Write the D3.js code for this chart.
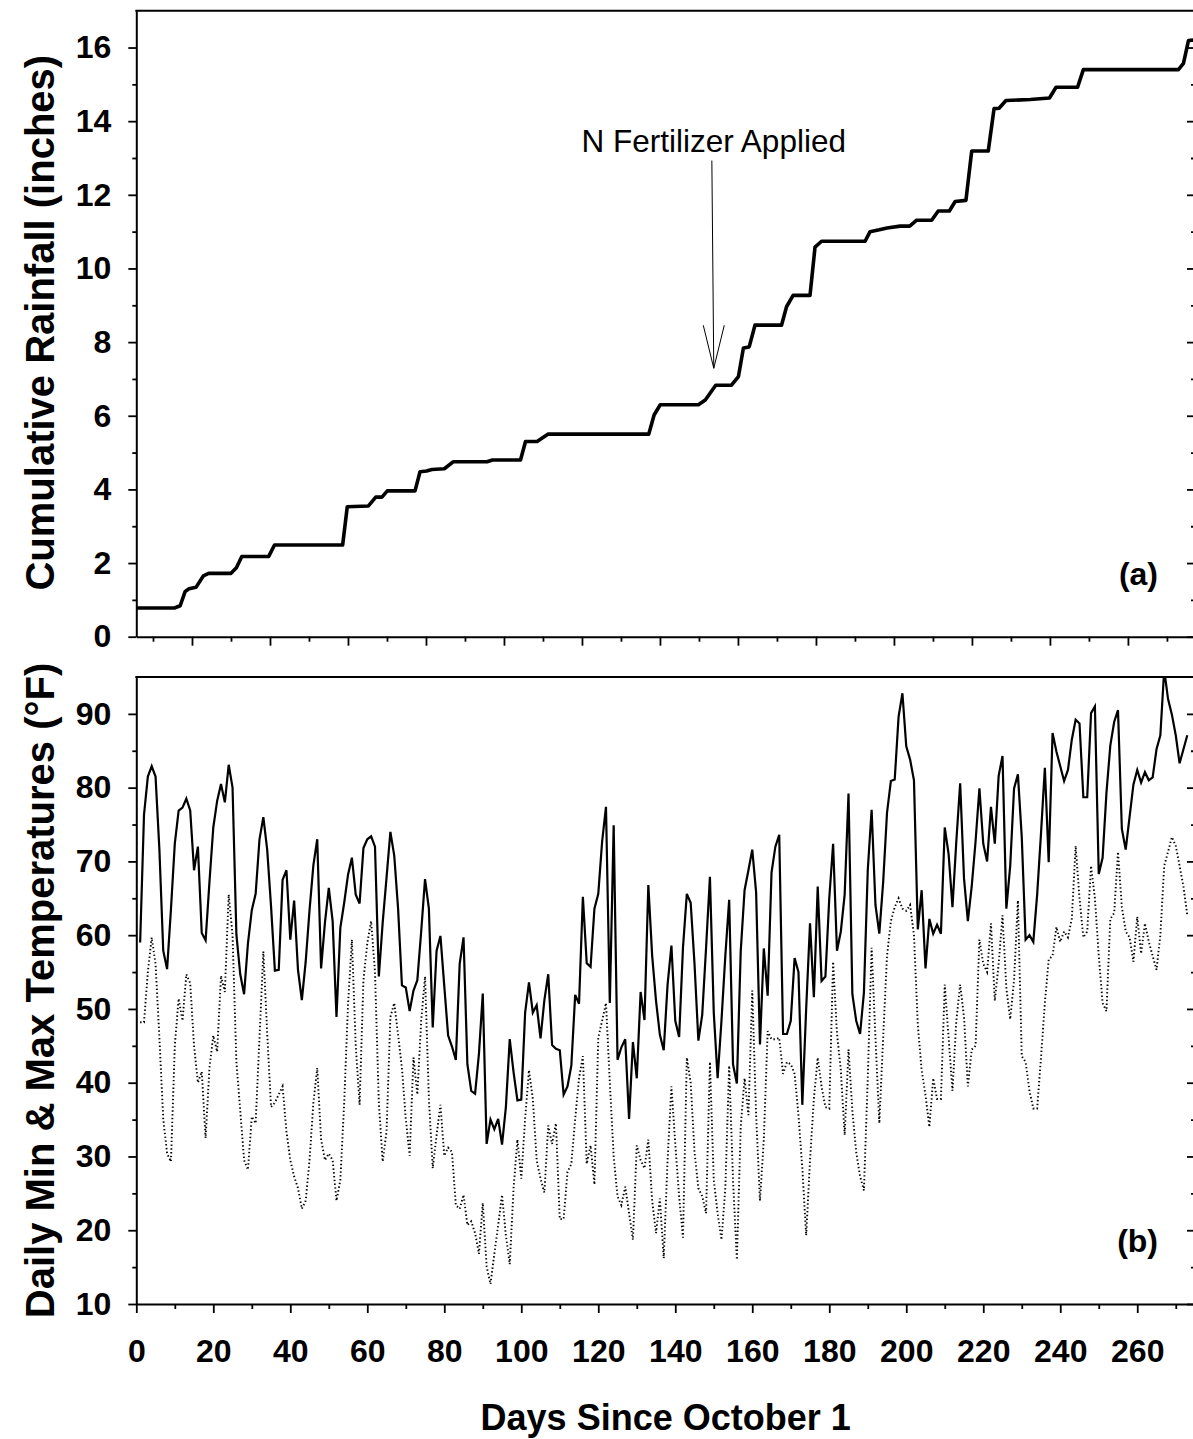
<!DOCTYPE html>
<html><head><meta charset="utf-8">
<script src="https://cdn.jsdelivr.net/npm/d3@7"></script>
<style>
body{margin:0;background:#fff}
svg{display:block}
text{font-family:"Liberation Sans",Arial,Helvetica,sans-serif;fill:#000}
</style>
</head><body>
<svg id="chart" width="1193" height="1439"></svg>
<script>
// ---------- DATA ----------
// (a) cumulative rainfall: breakpoints (day since Oct 1, inches)
const rainDays = [0,9.9,11.4,12.7,13.7,15.5,17.4,18.8,24.6,26.0,27.4,34.4,35.9,53.6,54.8,60.3,62.2,63.8,65.2,72.4,73.7,75.4,76.8,80.0,82.3,91.1,92.5,99.8,101.1,104.1,106.9,133.1,134.5,136.1,146.0,147.8,150.5,154.6,156.4,157.7,159.2,160.7,167.6,168.9,170.6,175.0,176.3,178.0,189.3,190.6,193,195,198.4,200.9,202.7,206.6,208.3,211.2,212.7,215.5,217.0,221.3,222.8,224.1,225.9,232.2,237.2,238.9,244.5,246.0,270.7,272.0,273.3,274.5];
const rainInches = [0.78,0.78,0.84,1.23,1.30,1.34,1.65,1.72,1.72,1.87,2.18,2.18,2.49,2.49,3.53,3.55,3.79,3.79,3.96,3.96,4.48,4.50,4.54,4.56,4.75,4.75,4.80,4.80,5.30,5.30,5.50,5.50,6.02,6.30,6.30,6.43,6.83,6.83,7.06,7.84,7.87,8.46,8.46,8.96,9.27,9.27,10.58,10.74,10.74,11.00,11.05,11.10,11.15,11.15,11.31,11.31,11.56,11.56,11.82,11.85,13.19,13.19,14.34,14.35,14.56,14.59,14.63,14.92,14.92,15.40,15.40,15.57,16.19,16.20];

// (b) daily temperatures, days 1..273
const firstTempDay = 1;
const maxTempF = [59.0,76.3,81.5,82.9,81.5,71.6,57.9,55.4,63.5,72.4,76.9,77.3,78.5,76.9,68.8,72.0,60.3,59.3,67.2,74.6,
78.2,80.5,78.0,83.1,80.0,60.1,54.7,52.0,58.9,63.4,65.6,73.0,76.0,71.6,63.9,55.2,55.3,67.5,68.8,59.4,
64.7,55.3,51.2,56.4,63.4,69.5,73.0,55.5,61.7,66.4,61.9,48.9,61.0,64.4,68.2,70.5,65.5,64.3,71.8,73.0,
73.4,72.0,54.4,61.7,67.8,74.0,70.8,63.6,53.2,52.9,49.7,52.5,53.9,60.5,67.6,63.6,47.5,57.9,59.9,53.1,
46.4,44.9,43.1,56.1,59.7,42.5,38.9,38.5,43.9,52.1,31.7,35.0,33.7,35.1,31.6,36.7,45.9,41.4,37.6,37.7,
49.5,53.6,49.5,50.5,46.0,51.2,54.7,45.1,44.6,44.4,38.4,39.5,42.3,51.9,50.7,65.2,56.2,55.7,63.6,65.6,
72.7,77.4,50.8,74.9,43.1,44.8,45.9,35.1,45.5,40.6,52.3,48.5,66.8,57.2,51.1,46.5,44.4,53.3,58.6,48.4,
46.2,58.3,65.6,64.4,56.1,45.7,49.2,58.3,67.9,49.5,40.6,48.4,57.2,64.8,42.5,39.9,57.8,66.1,68.8,71.6,
65.8,45.2,58.2,51.8,68.5,72.0,73.6,46.6,46.6,48.4,56.9,55.0,37.0,50.0,61.6,51.6,66.6,53.8,54.4,65.0,
72.4,57.9,60.5,65.5,79.2,52.0,48.4,46.6,52.2,68.8,77.0,64.1,60.2,67.2,76.6,80.9,81.1,89.6,92.8,85.6,
83.8,81.0,60.8,66.1,55.5,62.2,60.2,61.4,60.2,74.6,71.0,63.8,72.7,80.6,67.7,61.9,66.6,72.7,79.9,72.4,
70.0,77.4,72.4,81.6,84.3,63.6,69.4,79.9,81.8,73.3,59.4,60.0,59.1,65.5,73.8,82.7,69.9,87.4,84.9,82.9,
80.9,82.4,86.5,89.2,88.7,78.7,78.7,90.1,91.0,68.3,70.5,79.3,85.7,88.9,90.5,74.4,71.6,76.0,80.4,82.4,
80.7,82.1,81.0,81.4,85.2,87.1,96.0,92.0,89.9,87.1,83.3,85.2,87.1];
const minTempF = [48.2,48.2,55.0,59.7,56.1,46.1,35.1,30.4,29.3,45.0,51.4,48.4,54.7,53.5,45.0,40.0,41.5,32.5,42.0,46.4,
44.2,54.5,52.3,65.5,60.0,42.8,36.2,29.5,28.2,35.4,34.5,46.1,57.8,46.7,36.7,37.3,38.4,39.5,33.4,29.5,
27.3,25.7,22.9,24.0,29.5,37.3,42.0,32.3,29.5,30.4,29.5,24.0,26.8,37.3,50.6,59.4,45.0,37.0,53.9,58.9,
61.9,55.0,37.3,29.3,33.4,48.9,50.8,46.5,42.0,35.1,30.1,43.4,38.4,48.4,54.4,37.8,28.4,32.9,37.0,30.1,
31.2,30.6,23.4,22.9,24.8,20.7,21.2,19.6,16.8,23.7,15.1,12.7,16.8,20.7,24.8,19.3,15.4,25.7,32.3,27.0,
35.1,41.7,37.8,29.5,27.0,25.1,34.2,31.7,34.5,21.5,21.5,27.9,29.0,35.1,40.6,43.6,29.0,31.5,26.2,46.1,
48.4,50.8,40.0,30.0,24.6,23.4,25.9,22.3,18.7,31.5,29.5,28.4,32.3,24.0,19.6,24.3,16.2,29.5,39.5,31.7,
24.6,19.0,43.4,40.0,30.6,25.7,24.6,22.3,42.8,26.8,22.3,18.7,25.7,42.3,26.8,16.0,34.0,40.6,35.6,52.5,
35.6,24.0,32.3,47.0,45.9,45.9,46.1,41.2,42.8,42.5,41.2,35.6,28.4,19.3,29.5,37.8,43.4,39.5,36.7,36.5,
56.4,46.7,41.7,32.9,44.5,36.2,30.6,27.3,25.4,40.6,58.3,46.1,34.5,46.1,57.2,61.9,63.8,65.0,63.6,63.3,
64.1,60.0,47.8,41.7,38.3,34.0,40.6,37.8,37.8,53.3,46.1,38.9,48.4,53.3,48.9,39.5,44.5,45.0,59.4,56.1,
55.0,61.6,51.1,56.1,62.7,52.8,48.6,53.9,64.7,43.6,42.8,38.9,36.5,36.5,43.4,50.8,56.7,57.2,61.1,59.1,
60.5,59.7,62.2,72.1,65.0,59.7,60.5,69.4,65.0,57.2,50.8,49.7,62.2,63.0,71.3,63.8,60.5,59.7,56.4,62.5,
57.5,61.6,59.1,57.2,55.3,60.0,69.4,71.3,73.3,72.1,69.4,66.6,62.7];

// tick values
const dayLabelTicks = [0,20,40,60,80,100,120,140,160,180,200,220,240,260];
const dayMinorTicks = [10,30,50,70,90,110,130,150,170,190,210,230,250,270];
const topAxisMajor = [10,30,50,70,90,110,130,150,170,190,210,230,250];
const topAxisMinor = [0,20,40,60,80,100,120,140,160,180,200,220,240,260];
const rainMajorTicks = [0,2,4,6,8,10,12,14,16];
const rainMinorTicks = [1,3,5,7,9,11,13,15];
const tempMajorTicks = [10,20,30,40,50,60,70,80,90];
const tempMinorTicks = [15,25,35,45,55,65,75,85];

// ---------- LAYOUT ----------
const L = 136.3, R = 1195;
const topA = 10.7, botA = 636.7, topB = 677, botB = 1304;

const svg = d3.select("#chart");
const x = d3.scaleLinear().domain([0,275]).range([L,R]);
const xTop = d3.scaleLinear().domain([-4.28,267.2]).range([L,R]);
const yR = d3.scaleLinear().domain([0,17]).range([botA,topA]);
const yT = d3.scaleLinear().domain([10,95]).range([botB,topB]);

const tickFont = 'bold 32px "Liberation Sans",Arial,sans-serif';

function styleAxis(g, sw){
  g.selectAll("path.domain").attr("stroke","#000").attr("stroke-width",sw);
  g.selectAll(".tick line").attr("stroke","#000").attr("stroke-width",1.8);
  g.selectAll(".tick text").style("font",tickFont).attr("fill","#000");
}

// ===== Panel (a) =====
svg.append("g").attr("transform",`translate(${L},0)`)
  .call(d3.axisLeft(yR).tickValues(rainMajorTicks).tickSize(8).tickSizeOuter(0).tickPadding(17).tickFormat(d3.format("d")))
  .call(g=>styleAxis(g,2));
svg.append("g").attr("transform",`translate(${L},0)`)
  .call(d3.axisLeft(yR).tickValues(rainMinorTicks).tickSize(4).tickSizeOuter(0).tickFormat(""))
  .call(g=>{styleAxis(g,2); g.select("path.domain").remove();});
svg.append("g").attr("transform",`translate(${R},0)`)
  .call(d3.axisRight(yR).tickValues(rainMajorTicks).tickSize(-8).tickSizeOuter(0).tickFormat(""))
  .call(g=>styleAxis(g,2));
svg.append("g").attr("transform",`translate(${R},0)`)
  .call(d3.axisRight(yR).tickValues(rainMinorTicks).tickSize(-4).tickSizeOuter(0).tickFormat(""))
  .call(g=>{styleAxis(g,2); g.select("path.domain").remove();});
svg.append("g").attr("transform",`translate(0,${botA})`)
  .call(d3.axisBottom(xTop).tickValues(topAxisMajor).tickSize(9).tickSizeOuter(0).tickFormat(""))
  .call(g=>styleAxis(g,2));
svg.append("g").attr("transform",`translate(0,${botA})`)
  .call(d3.axisBottom(xTop).tickValues(topAxisMinor).tickSize(5).tickSizeOuter(0).tickFormat(""))
  .call(g=>{styleAxis(g,2); g.select("path.domain").remove();});
svg.append("line").attr("x1",L-1).attr("x2",R).attr("y1",topA).attr("y2",topA)
  .attr("stroke","#000").attr("stroke-width",2);

const rainPts = rainDays.map((d,i)=>[d, rainInches[i]]);
svg.append("path").datum(rainPts)
  .attr("fill","none").attr("stroke","#000").attr("stroke-width",3.6)
  .attr("stroke-linejoin","round").attr("stroke-linecap","butt")
  .attr("d", d3.line().x(d=>x(d[0])).y(d=>yR(d[1])));

const annDay = 150;
svg.append("text").attr("x",x(annDay)).attr("y",yR(13.15))
  .attr("text-anchor","middle").style("font",'31.5px "Liberation Sans",Arial,sans-serif')
  .text("N Fertilizer Applied");
const tipX = x(annDay), tipY = yR(7.29);
svg.append("line").attr("x1",x(annDay-0.5)).attr("y1",yR(12.93)).attr("x2",tipX).attr("y2",tipY)
  .attr("stroke","#000").attr("stroke-width",1);
svg.append("path").attr("d",`M${tipX-10.5},${tipY-43}L${tipX},${tipY}L${tipX+10.5},${tipY-43}`)
  .attr("fill","none").attr("stroke","#000").attr("stroke-width",1);

svg.append("text").attr("x",1158).attr("y",585).attr("text-anchor","end")
  .style("font",tickFont).text("(a)");

svg.append("text").attr("transform",`translate(54,${(topA+botA)/2 - 1}) rotate(-90)`)
  .attr("text-anchor","middle").style("font",'bold 40px "Liberation Sans",Arial,sans-serif')
  .text("Cumulative Rainfall (inches)");

// ===== Panel (b) =====
svg.append("g").attr("transform",`translate(${L},0)`)
  .call(d3.axisLeft(yT).tickValues(tempMajorTicks).tickSize(8).tickSizeOuter(0).tickPadding(17).tickFormat(d3.format("d")))
  .call(g=>styleAxis(g,2));
svg.append("g").attr("transform",`translate(${L},0)`)
  .call(d3.axisLeft(yT).tickValues(tempMinorTicks).tickSize(4).tickSizeOuter(0).tickFormat(""))
  .call(g=>{styleAxis(g,2); g.select("path.domain").remove();});
svg.append("g").attr("transform",`translate(${R},0)`)
  .call(d3.axisRight(yT).tickValues(tempMajorTicks).tickSize(-8).tickSizeOuter(0).tickFormat(""))
  .call(g=>styleAxis(g,2));
svg.append("g").attr("transform",`translate(${R},0)`)
  .call(d3.axisRight(yT).tickValues(tempMinorTicks).tickSize(-4).tickSizeOuter(0).tickFormat(""))
  .call(g=>{styleAxis(g,2); g.select("path.domain").remove();});
svg.append("g").attr("transform",`translate(0,${botB})`)
  .call(d3.axisBottom(x).tickValues(dayLabelTicks).tickSize(9).tickSizeOuter(0).tickPadding(26).tickFormat(d3.format("d")))
  .call(g=>styleAxis(g,2));
svg.append("g").attr("transform",`translate(0,${botB})`)
  .call(d3.axisBottom(x).tickValues(dayMinorTicks).tickSize(5).tickSizeOuter(0).tickFormat(""))
  .call(g=>{styleAxis(g,2); g.select("path.domain").remove();});
svg.append("line").attr("x1",L-1).attr("x2",R).attr("y1",topB).attr("y2",topB)
  .attr("stroke","#000").attr("stroke-width",2);

svg.append("clipPath").attr("id","clipB").append("rect")
  .attr("x",L).attr("y",topB).attr("width",R-L).attr("height",botB-topB);
const gB = svg.append("g").attr("clip-path","url(#clipB)");
const tLine = d3.line().x((d,i)=>x(firstTempDay+i)).y(d=>yT(d));
gB.append("path").datum(minTempF).attr("fill","none").attr("stroke","#000")
  .attr("stroke-width",1.9).attr("stroke-dasharray","1.4,2.4").attr("d",tLine);
gB.append("path").datum(maxTempF).attr("fill","none").attr("stroke","#000")
  .attr("stroke-width",2.2).attr("stroke-linejoin","miter").attr("d",tLine);

svg.append("text").attr("x",1158).attr("y",1252).attr("text-anchor","end")
  .style("font",tickFont).text("(b)");

svg.append("text").attr("transform",`translate(54,${(topB+botB)/2}) rotate(-90)`)
  .attr("text-anchor","middle").style("font",'bold 40px "Liberation Sans",Arial,sans-serif')
  .text("Daily Min & Max Temperatures (°F)");

svg.append("text").attr("x",(L+R)/2).attr("y",1430).attr("text-anchor","middle")
  .style("font",'bold 36px "Liberation Sans",Arial,sans-serif')
  .text("Days Since October 1");
</script>
</body></html>
